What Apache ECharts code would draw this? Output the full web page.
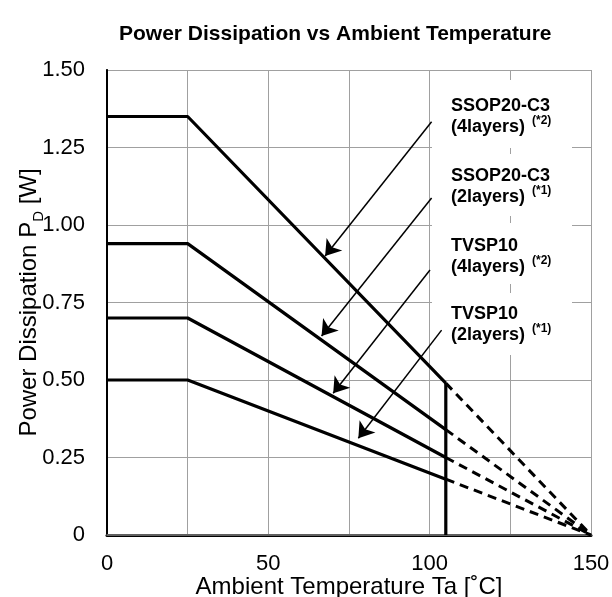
<!DOCTYPE html>
<html>
<head>
<meta charset="utf-8">
<script src="https://cdn.jsdelivr.net/npm/echarts@6/dist/echarts.min.js"></script>
<style>
html,body{margin:0;padding:0;background:#fff;}
#chart{width:612px;height:597px;}
</style>
</head>
<body>
<div id="chart"></div>
<script>
// ---- data ----
var tempPoints = [0, 25, 105, 150];          // Ta [°C]
var ssop4 = [1.35, 1.35, 0.49, 0];           // SSOP20-C3 (4layers)
var ssop2 = [0.94, 0.94, 0.34, 0];           // SSOP20-C3 (2layers)
var tvsp4 = [0.70, 0.70, 0.25, 0];           // TVSP10 (4layers)
var tvsp2 = [0.50, 0.50, 0.18, 0];           // TVSP10 (2layers)
var limitTemp = 105;
var limitLine = [0, 0.49];
var xTicks = [0, 50, 100, 150];
var arrowStartX = [100.6, 100.6, 100.1, 103.7];
var arrowStartY = [1.333, 1.087, 0.855, 0.661];
var arrowEndX = [67.6, 66.5, 70.1, 77.9];
var arrowEndY = [0.90, 0.642, 0.457, 0.312];
var labelMain = ['SSOP20-C3', 'SSOP20-C3', 'TVSP10', 'TVSP10'];
var labelSub = ['(4layers)', '(2layers)', '(4layers)', '(2layers)'];
var labelNote = ['(*2)', '(*1)', '(*2)', '(*1)'];

var FONT = '"Liberation Sans", Arial, Helvetica, sans-serif';

function solidPart(vals){ return [0,1,2].map(function(i){ return [tempPoints[i], vals[i]]; }); }
function dashPart(vals){ return [2,3].map(function(i){ return [tempPoints[i], vals[i]]; }); }

var allSeries = [ssop4, ssop2, tvsp4, tvsp2];
var series = [];
allSeries.forEach(function(v){
  series.push({type:'line', data: solidPart(v), symbol:'none', silent:true,
    lineStyle:{color:'#000', width:3.2}, z:3});
  series.push({type:'line', data: dashPart(v), symbol:'none', silent:true,
    lineStyle:{color:'#000', width:3, type:[9,6]}, z:3});
});
var arrows = arrowStartX.map(function(x, i){
  return [{coord:[x, arrowStartY[i]]}, {coord:[arrowEndX[i], arrowEndY[i]]}];
});
series.push({type:'line', data: [[limitTemp, limitLine[0]], [limitTemp, limitLine[1]]],
  symbol:'none', silent:true, lineStyle:{color:'#000', width:3.2}, z:3,
  markLine:{silent:true, symbol:['none','arrow'], symbolSize:15,
    label:{show:false}, lineStyle:{color:'#000', width:1.5, type:'solid'},
    itemStyle:{color:'#000'},
    emphasis:{disabled:true}, animation:false, data: arrows}
});

// label graphics
var boxTops = [80, 154, 223, 293];
var boxBottoms = [148, 216, 284, 355];
var textY = [106, 176, 246, 314];
var graphics = [];
for (var i=0;i<4;i++){
  graphics.push({type:'rect', left:432, top:boxTops[i], z:5,
    shape:{width:140, height:boxBottoms[i]-boxTops[i]}, style:{fill:'#fff'}});
  graphics.push({type:'text', x:451, y:textY[i], z:6,
    style:{text:labelMain[i], font:'bold 18px '+FONT, fill:'#000', verticalAlign:'middle'}});
  graphics.push({type:'text', x:451, y:textY[i]+21, z:6,
    style:{text:labelSub[i], font:'bold 18px '+FONT, fill:'#000', verticalAlign:'middle'}});
  graphics.push({type:'text', x:532, y:textY[i]+15, z:6,
    style:{text:labelNote[i], font:'bold 12px '+FONT, fill:'#000', verticalAlign:'middle'}});
}

var chart = echarts.init(document.getElementById('chart'), null, {renderer:'canvas'});
chart.setOption({
  animation:false,
  backgroundColor:'#fff',
  title:{text:'Power Dissipation vs Ambient Temperature', left:114, top:19,
    textStyle:{fontFamily:FONT, fontSize:21, fontWeight:'bold', color:'#000'}},
  grid:{left:107, right:21, top:70, bottom:62, containLabel:false, outerBoundsMode:'none'},
  xAxis:[{
    type:'value', min:0, max:150, interval:25,
    name:'Ambient Temperature Ta [˚C]', nameLocation:'middle', nameGap:40, nameMoveOverlap:false,
    nameTextStyle:{fontFamily:FONT, fontSize:24, color:'#000'},
    axisLine:{show:true, onZero:false, lineStyle:{color:'#000', width:3}},
    axisTick:{show:false},
    axisLabel:{margin:18, fontFamily:FONT, fontSize:22, color:'#000',
      formatter:function(v){ return xTicks.indexOf(v) >= 0 ? String(v) : ''; }},
    splitLine:{show:true, lineStyle:{color:'#a0a0a0', width:1}}
  },{
    type:'value', min:0, max:150, position:'top',
    axisLine:{show:true, lineStyle:{color:'#808080', width:1.5}},
    axisTick:{show:false}, axisLabel:{show:false}, splitLine:{show:false}
  }],
  yAxis:[{
    type:'value', min:0, max:1.5, interval:0.25,
    name:'Power Dissipation P{sub|D} [W]', nameLocation:'middle', nameGap:66, nameRotate:90, nameMoveOverlap:false,
    nameTextStyle:{fontFamily:FONT, fontSize:24, color:'#000',
      rich:{sub:{fontFamily:FONT, fontSize:15, color:'#000', verticalAlign:'bottom', padding:[0,0,-5,0]}}},
    axisLine:{show:true, onZero:false, lineStyle:{color:'#8a8a8a', width:2}},
    axisTick:{show:false},
    axisLabel:{margin:22, fontFamily:FONT, fontSize:22, color:'#000',
      formatter:function(v){ return v === 0 ? '0' : v.toFixed(2); }},
    splitLine:{show:true, lineStyle:{color:'#a0a0a0', width:1}}
  },{
    type:'value', min:0, max:1.5, position:'right',
    axisLine:{show:true, lineStyle:{color:'#000', width:2}},
    axisTick:{show:false}, axisLabel:{show:false}, splitLine:{show:false}
  }],
  graphic: graphics,
  series: series
});
</script>
</body>
</html>
